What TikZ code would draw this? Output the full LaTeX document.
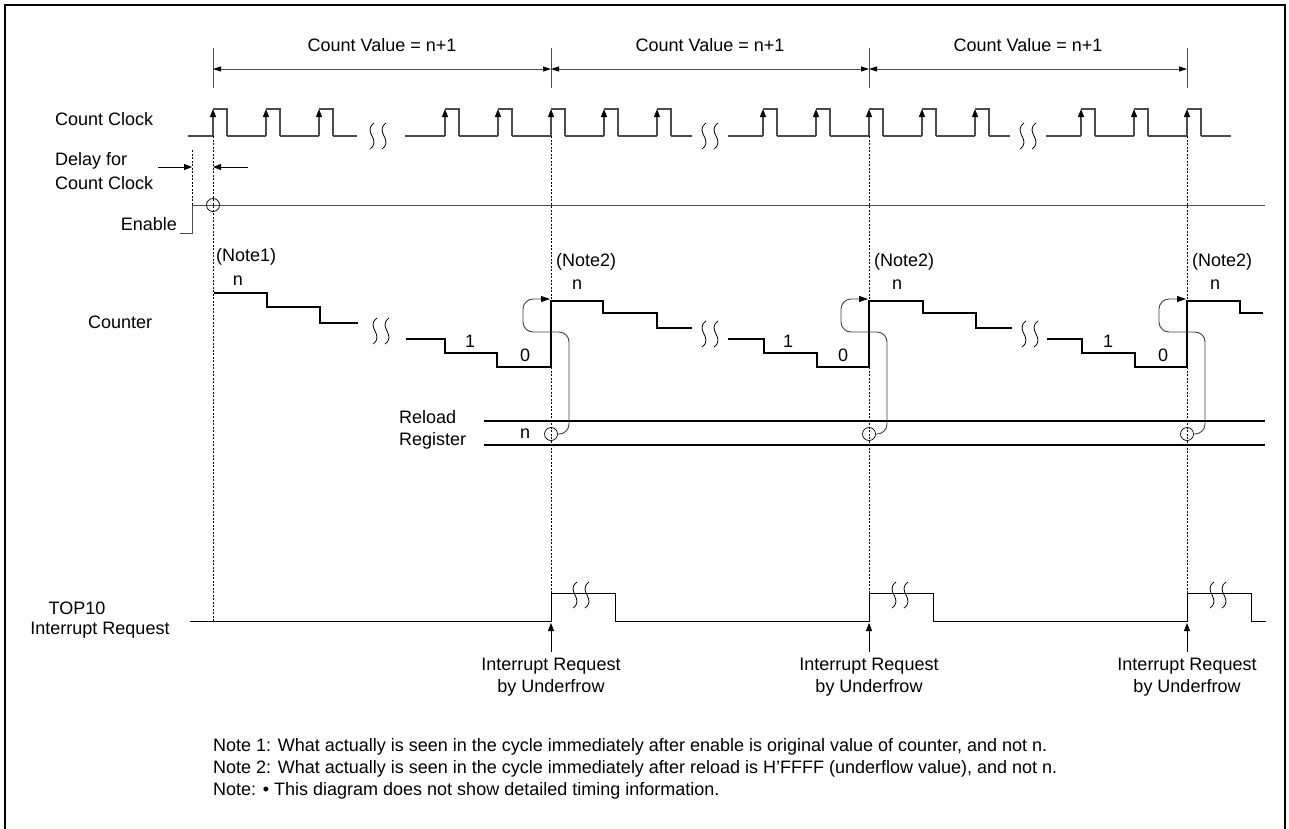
\documentclass[tikz,border=0pt]{standalone}
\usepackage{fontspec}
\setmainfont{Liberation Sans}
\usetikzlibrary{arrows.meta}

\newcommand{\brkmark}[2]{%
  \foreach \d in {-6,6}{\draw[brk] ({#1+\d+2},{#2-13}) .. controls ({#1+\d-10},{#2-4}) and ({#1+\d+10},{#2+4}) .. ({#1+\d-2},{#2+13});}}

\begin{document}
\begin{tikzpicture}[x=1pt,y=-1pt,
  lbl/.style={font=\fontsize{18}{21}\selectfont,inner sep=0pt},
  note/.style={font=\fontsize{18}{21}\selectfont,inner sep=0pt,anchor=west},
  clk/.style={draw=black!70,line width=1.3pt},
  cnt/.style={line width=2.2pt},
  dots/.style={line width=0.7pt,dash pattern=on 2pt off 1.5pt},
  brk/.style={line width=0.8pt},
  tip/.style={-{Triangle[length=8pt,width=6pt,color=black]}}]
 \useasboundingbox (0,0) rectangle (1289,828);
 \draw[line width=2.2pt] (5,832) -- (5,5) -- (1285,5) -- (1285,832);
 \foreach \x in {213,551,869,1187}{\draw[black!70,line width=1pt] (\x,48) -- (\x,88);}
 \foreach \a/\b/\m [count=\i] in {213/551/382,551/869/710,869/1187/1028}{
   \draw[black!70,line width=1pt,{Triangle[length=8pt,width=5pt,color=black]}-{Triangle[length=8pt,width=5pt,color=black]}] (\a,69) -- (\b,69);
   \node[lbl] (cv\i) at (\m,45) {Count Value = n+1};}
 \node[lbl,anchor=west] (clklbl) at (55,119) {Count Clock};
 \foreach \x in {213,266,319,445,498,551,604,657,763,816,869,922,975,1081,1134,1187}{
   \draw[clk,tip] (\x,136) -- (\x,109);
   \draw[clk] (\x,109) -- ++(14,0) -- ++(0,27);}
 \foreach \a/\b in {188/213,227/266,280/319,333/357,405/445,459/498,512/551,565/604,618/657,671/692,
   728/763,777/816,830/869,883/922,936/975,989/1010,1046/1081,1095/1134,1148/1187,1201/1231}
   {\draw[clk] (\a,136) -- (\b,136);}
 \brkmark{378}{136} \brkmark{710}{136} \brkmark{1028}{136}
 \node[lbl,anchor=west] (dly1) at (55,161) {Delay for};
 \node[lbl,anchor=west] (dly2) at (55,183) {Count Clock};
 \draw[tip,line width=0.8pt] (158,167) -- (192,167);
 \draw[tip,line width=0.8pt] (248,167) -- (213,167);
 \draw[dots] (192,150) -- (192,205);
 \node[lbl,anchor=east] (enlbl) at (177,224) {Enable};
 \draw[black!70,line width=1pt] (180,233) -- (192,233) -- (192,205) -- (1265,205);
 \draw[line width=0.7pt] (213,205) circle (6.5pt);
 \draw[dots] (213,136) -- (213,621);
 \foreach \x in {551,869,1187}{\draw[dots] (\x,136) -- (\x,593);}
 \node[lbl,anchor=west] (nt1) at (216,257) {(Note1)};
 \foreach \x [count=\i] in {551,869,1187}{\node[lbl,anchor=west] (nt2\i) at (\x+5,262) {(Note2)};}
 \node[lbl,anchor=west] (cntlbl) at (88,322) {Counter};
 \draw[cnt] (214,293) -| (267,307) -| (320,323) -- (358,323);
 \draw[cnt] (406,339) -| (445,353) -| (497,367) -| (551,301) -| (603,313) -| (657,328) -- (692,328);
 \draw[cnt] (728,339) -| (764,353) -| (817,367) -| (869,301) -| (923,313) -| (976,328) -- (1012,328);
 \draw[cnt] (1047,339) -| (1082,353) -| (1135,367) -| (1187,301) -| (1240,313) -- (1263,313);
 \brkmark{381}{331} \brkmark{710}{334} \brkmark{1030}{334}
 \node[lbl] (n0) at (238,281) {n};
 \foreach \o/\l/\z/\n [count=\i] in {470/525/577/0,788/843/897/1,1108/1163/1215/2}{
   \node[lbl] (one\i) at (\o,341) {1};
   \node[lbl] (zero\i) at (\l,355) {0};
   \node[lbl] (nn\i) at (\z,285) {n};}
 \node[lbl,anchor=west] (rl1) at (399,417) {Reload};
 \node[lbl,anchor=west] (rl2) at (399,441) {Register};
 \draw[line width=2pt] (484,421) -- (1265,421);
 \draw[line width=2pt] (484,445) -- (1265,445);
 \node[lbl] (rn) at (525,434) {n};
 \foreach \x in {551,869,1187}{
   \draw[line width=0.7pt] (\x,434) circle (6.5pt);
   \draw[black!75,line width=0.9pt,rounded corners=10pt,-{Triangle[length=9pt,width=6pt,color=black]}]
     ({\x+6},434) -- ({\x+18},434) -- ({\x+18},332) -- ({\x-28},332) -- ({\x-28},299) -- ({\x-1},299);}
 \node[lbl] (top1) at (77,608) {TOP10};
 \node[lbl] (top2) at (100,630) {Interrupt Request};
 \draw[line width=1pt] (190,621) -- (551,621) |- (615,593) |- (869,621) |- (933,593) |- (1187,621) |- (1251,593) |- (1266,621);
 \brkmark{581}{595} \brkmark{900}{595} \brkmark{1218}{595}
 \foreach \x [count=\i] in {551,869,1187}{
   \draw[tip,line width=0.8pt] (\x,652) -- (\x,623);
   \node[lbl] (irq\i) at (\x,666) {Interrupt Request};
   \node[lbl] (ufl\i) at (\x,688) {by Underfrow};}
 \node[note] (note1) at (213,747) {Note 1: What actually is seen in the cycle immediately after enable is original value of counter, and not n.};
 \node[note] (note2) at (213,769) {Note 2: What actually is seen in the cycle immediately after reload is H'FFFF (underflow value), and not n.};
 \node[note] (note3) at (213,791) {Note: \textbullet\ This diagram does not show detailed timing information.};
\end{tikzpicture}
\end{document}
